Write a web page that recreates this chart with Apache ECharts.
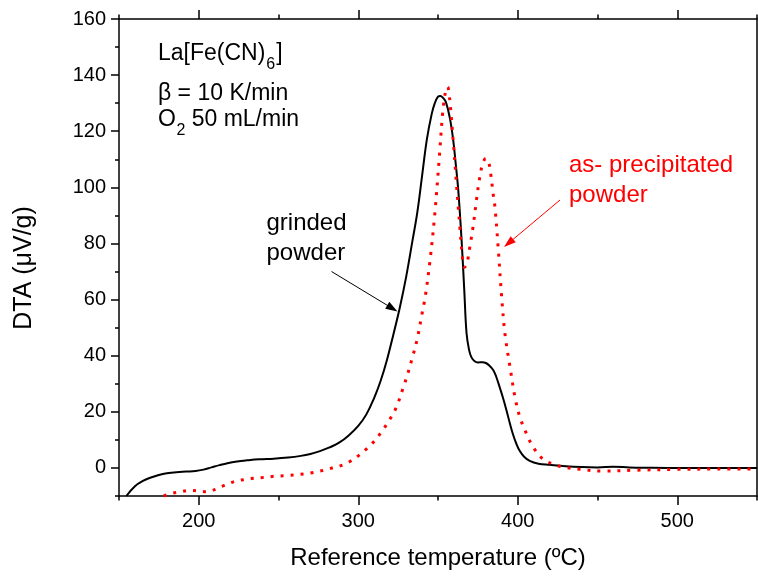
<!DOCTYPE html>
<html><head><meta charset="utf-8">
<script src="https://cdn.jsdelivr.net/npm/echarts@6/dist/echarts.min.js"></script>
<style>html,body{margin:0;padding:0;background:#fff}#c{width:758px;height:577px}</style>
</head><body><div id="c"></div>
<script>
// ---- data (temperature in °C, DTA in µV/g) ----
const grindedT = [154.6,160,165,170,175,180,186,192,198,203,208,213,218,224,230,238,247,256,264,270,276,282,288,294,300,305,310,314,318,322,326,330,334,337,340,343,346,348,350,351.5,353,355,357.5,359.5,361,362.7,364.8,366.5,367.9,369.5,371,373,375,378,380,382,384.5,386.5,388.7,391,393,395,397,399,401.3,404,407.5,413,420,430,440,450,460,470,480,500,525,550];
const grindedV = [-10,-6.5,-4.6,-3.4,-2.5,-1.9,-1.5,-1.3,-1.1,-0.6,0.2,1.0,1.7,2.3,2.7,3.1,3.3,3.7,4.3,5.0,6.0,7.3,9.0,11.6,15,19,25,31,38.5,47.5,57,68,81,91,104,117,126,130,132.3,132.6,132,130.3,124.5,117,109,99,81,63,48,42,39.4,38,37.6,37.7,37.4,36.6,35,32.5,28.7,24.5,20.4,16,12,8.8,6,4,2.5,1.5,1.1,0.6,0.3,0.2,0.4,0.2,0.1,0,0,0];
const asPrecT = [178,183,188.4,194.6,200,205,208,211.4,216,220,224,229,234,240,247,255,263.5,270,276,280,284.4,290,294.8,300,305,310,315,320,324,328,331,334,337,340,342,345,348,351,353,355,356,357.4,359.5,361.6,363.7,365.5,366.5,368,370,372,374,376,378,380,381.5,383,384.5,385.7,387.7,389.9,392,395.2,398.3,401.4,405.6,409.8,416,424,430,439,453,474,500,525,550];
const asPrecV = [-10,-9.1,-8.5,-8,-8.2,-8.5,-8.2,-7.3,-6.2,-5.3,-4.6,-4.1,-3.7,-3.4,-3.0,-2.7,-2.3,-1.8,-1.1,-0.6,0.1,1.0,2.3,4.3,6.7,9.5,13.2,17.5,21.8,28.3,33.5,39.5,46,55,61,74,90.6,112,127,135,135.8,131,116.8,101,85.8,74,71.5,72.5,79,86,95,103,108.5,110.3,109.5,105,98,93,78.7,61,47.7,35.8,25.1,18,12,7.3,3.1,1.0,0.2,-0.5,-1.1,-0.8,-0.5,-0.4,-0.4];
const xMajorTicks = [200,300,400,500];
const xMinorTicks = [150,250,350,450,550];
const yMajorTicks = [0,20,40,60,80,100,120,140,160];
const yMinorTicks = [-10,10,30,50,70,90,110,130,150];
const xRange = [150,550];
const yRange = [-10,160];
const xTitle = 'Reference temperature (ºC)';
const yTitle = 'DTA (\u03bcV/g)';

const FONT = '"Liberation Sans", Arial, sans-serif';
const zip = (a,b) => a.map((v,i)=>[v,b[i]]);

const chart = echarts.init(document.getElementById('c'), null, {renderer:'canvas'});
const lineS = {color:'#000', width:1.5};
function xAx(pos, ticks, len, labels, line){
  return {type:'value', position:pos, min:xRange[0], max:xRange[1],
    axisLine:{show:line, onZero:false, lineStyle:lineS},
    axisTick:{show:true, inside:false, length:len, customValues:ticks, lineStyle:lineS},
    axisLabel:{show:labels, customValues:ticks, margin:15, color:'#000', fontSize:20, fontFamily:FONT},
    splitLine:{show:false}};
}
function yAx(pos, ticks, len, labels, line){
  return {type:'value', position:pos, min:yRange[0], max:yRange[1],
    axisLine:{show:line, onZero:false, lineStyle:lineS},
    axisTick:{show:ticks!==null, inside:false, length:len, customValues:ticks||[], lineStyle:lineS},
    axisLabel:{show:labels, customValues:ticks||[], margin:13, color:'#000', fontSize:20, fontFamily:FONT},
    splitLine:{show:false}};
}
chart.setOption({
  animation:false,
  backgroundColor:'#fff',
  grid:{left:119, right:1, top:19, bottom:81},
  xAxis:[xAx('bottom',xMajorTicks,9,true,true), xAx('bottom',xMinorTicks,4.5,false,false),
         xAx('top',xMajorTicks,9,false,true), xAx('top',xMinorTicks,4.5,false,false)],
  yAxis:[yAx('left',yMajorTicks,8,true,true), yAx('left',yMinorTicks,4,false,false),
         yAx('right',null,0,false,true)],
  series:[
    {type:'line', name:'grinded powder', xAxisIndex:0, yAxisIndex:0, data:zip(grindedT,grindedV),
     showSymbol:false, symbol:'none', smooth:0.4, clip:true,
     lineStyle:{color:'#000', width:2}},
    {type:'line', name:'as- precipitated powder', xAxisIndex:0, yAxisIndex:0, data:zip(asPrecT,asPrecV),
     showSymbol:false, symbol:'none', smooth:0.35, clip:true,
     lineStyle:{color:'#ff0000', width:3, type:[3,7], cap:'butt'}}
  ]
});

// ---- annotations ----
const cv = document.createElement('canvas').getContext('2d');
function tw(t, size){ cv.font = size+'px '+FONT; return cv.measureText(t).width; }
function txt(t, x, y, size, color, extra){
  return Object.assign({type:'text', x:x, y:y, silent:true,
    style:{text:t, fontSize:size, fontFamily:FONT, fill:color||'#000', align:'left', verticalAlign:'middle'}}, extra||{});
}
function arrow(x1,y1,x2,y2,color,w,hl,hw){
  const a = Math.atan2(y2-y1,x2-x1), c=Math.cos(a), s=Math.sin(a);
  const bx = x2-hl*c, by = y2-hl*s;
  return [
    {type:'line', silent:true, shape:{x1:x1,y1:y1,x2:bx+2*c,y2:by+2*s}, style:{stroke:color, lineWidth:w}},
    {type:'polygon', silent:true, shape:{points:[[x2,y2],[bx - hw*s, by + hw*c],[bx + hw*s, by - hw*c]]}, style:{fill:color}}
  ];
}
const A = 23, S = 16, X0 = 158;
const g = [];
// La[Fe(CN)6]
let w1 = tw('La[Fe(CN)', A);
g.push(txt('La[Fe(CN)', X0, 53.5, A));
g.push(txt('6', X0+w1+1, 65, S));
g.push(txt(']', X0+w1+1+tw('6',S)+1, 53.5, A));
g.push(txt('\u03b2 = 10 K/min', X0, 93.3, A));
let w2 = tw('O', A);
g.push(txt('O', X0, 119.5, A));
g.push(txt('2', X0+w2+0.5, 131, S));
g.push(txt(' 50 mL/min', X0+w2+0.5+tw('2',S), 119.5, A));
// curve labels
g.push(txt('grinded', 266.5, 223.7, 24));
g.push(txt('powder', 266.5, 253.4, 24));
g.push(txt('as- precipitated', 569, 165, 24, '#ff0000'));
g.push(txt('powder', 569, 195, 24, '#ff0000'));
g.push(...arrow(331.5,271.5,397.5,311.5,'#000',1,12,4));
g.push(...arrow(560,200,504,247,'#ff0000',1,12,4));
// axis titles
g.push(txt(xTitle, 438, 558.7, 24, '#000', {style:{text:xTitle, fontSize:24, fontFamily:FONT, fill:'#000', align:'center', verticalAlign:'middle'}}));
g.push({type:'text', x:24, y:268, rotation:Math.PI/2, silent:true,
  style:{text:yTitle, fontSize:25, fontFamily:FONT, fill:'#000', align:'center', verticalAlign:'middle'}});
chart.setOption({graphic:{elements:g}});
</script></body></html>
